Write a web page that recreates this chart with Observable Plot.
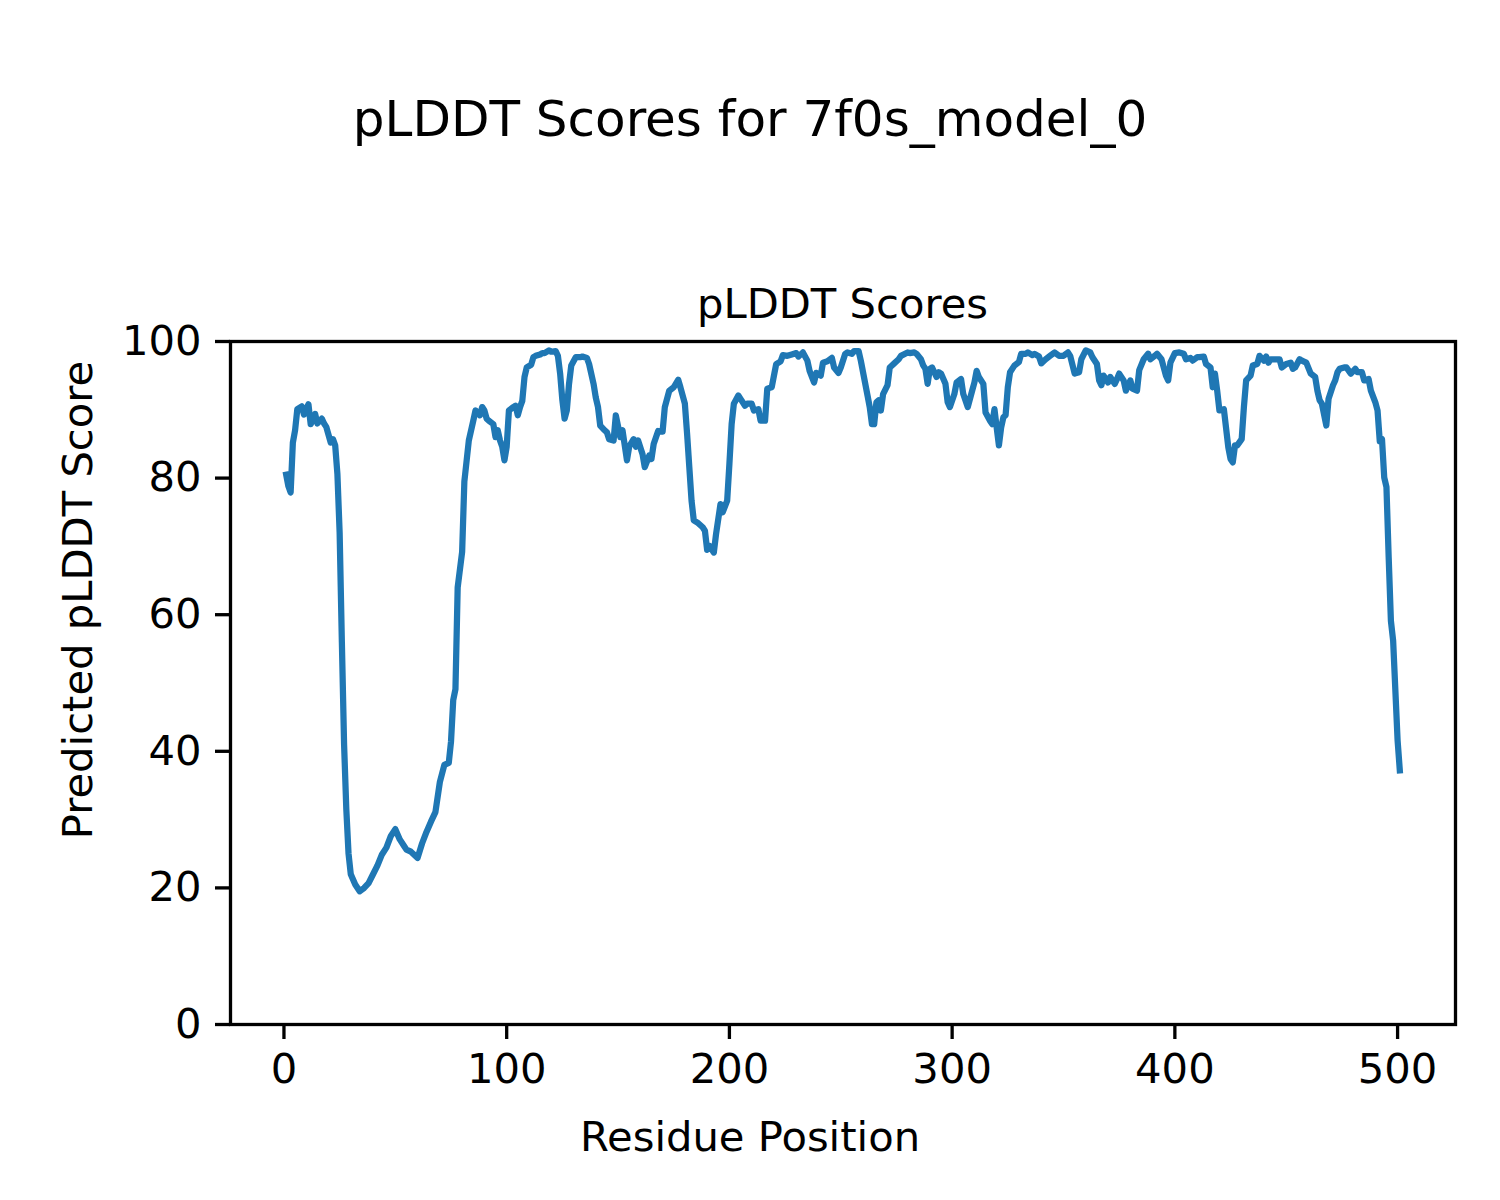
<!DOCTYPE html>
<html>
<head>
<meta charset="utf-8">
<script src="https://cdn.jsdelivr.net/npm/d3@7"></script>
<script src="https://cdn.jsdelivr.net/npm/@observablehq/plot@0.6"></script>
<style>
  html, body { margin: 0; padding: 0; background: #ffffff; }
  #chart { width: 1500px; height: 1200px; }
</style>
</head>
<body>
<div id="chart"></div>
<script>
// ---- Data ----
const residues = [
  1, 2, 3, 4, 5, 6, 8, 9, 11, 12,
  14, 15, 17, 18, 19, 21, 22, 23, 24, 25,
  26, 27, 28, 29, 30, 32, 34, 36, 38, 40,
  42, 44, 46, 48, 50, 52, 54, 55, 57, 60,
  62, 64, 66, 68, 70, 72, 74, 75, 76, 77,
  78, 80, 81, 83, 85, 86, 88, 89, 90, 91,
  92, 94, 95, 96, 97, 98, 99, 100, 101, 103,
  104, 105, 106, 107, 108, 109, 111, 112, 113, 115,
  116, 117, 119, 120, 122, 123, 124, 125, 126, 127,
  128, 129, 131, 133, 134, 136, 137, 139, 140, 141,
  142, 144, 145, 146, 148, 149, 151, 152, 154, 155,
  157, 158, 159, 161, 162, 164, 165, 166, 168, 170,
  171, 173, 175, 177, 178, 180, 181, 182, 183, 184,
  186, 188, 189, 190, 191, 193, 194, 196, 197, 199,
  200, 201, 202, 204, 205, 207, 208, 210, 211, 213,
  214, 216, 217, 219, 220, 221, 223, 224, 226, 228,
  230, 231, 233, 235, 236, 238, 239, 241, 242, 244,
  246, 247, 249, 250, 252, 253, 255, 256, 258, 259,
  261, 262, 263, 264, 265, 266, 267, 268, 269, 271,
  272, 274, 276, 277, 280, 281, 283, 284, 286, 287,
  288, 289, 290, 291, 293, 294, 295, 297, 298, 299,
  301, 302, 304, 305, 307, 309, 310, 311, 312, 314,
  315, 317, 318, 319, 320, 321, 322, 323, 324, 325,
  326, 328, 330, 331, 333, 334, 336, 337, 339, 340,
  342, 344, 346, 348, 350, 352, 353, 355, 357, 358,
  360, 362, 363, 365, 366, 367, 368, 370, 371, 373,
  374, 375, 377, 378, 380, 381, 383, 384, 386, 388,
  389, 391, 392, 394, 396, 397, 398, 400, 402, 404,
  405, 407, 408, 410, 411, 413, 414, 416, 417, 418,
  419, 420, 422, 424, 425, 426, 427, 428, 430, 431,
  432, 434, 435, 437, 438, 440, 441, 442, 443, 445,
  447, 448, 450, 452, 453, 454, 456, 457, 459, 461,
  463, 464, 465, 466, 468, 469, 471, 472, 473, 474,
  476, 477, 479, 481, 482, 484, 485, 487, 488, 490,
  491, 492, 493, 494, 495, 496, 497, 498, 500, 501
];
const plddt = [
  80.5, 78.8, 77.9, 85.2, 87.0, 90.1, 90.5, 89.3, 90.8, 87.9,
  89.4, 88.0, 88.7, 88.0, 87.5, 85.2, 85.7, 84.8, 80.6, 72.0,
  56.0, 41.0, 31.5, 25.0, 22.0, 20.5, 19.5, 20.0, 20.7, 22.0,
  23.3, 24.9, 25.9, 27.6, 28.6, 27.1, 26.1, 25.6, 25.3, 24.4,
  26.5, 28.2, 29.7, 31.1, 35.5, 38.0, 38.3, 41.4, 47.5, 49.1,
  64.0, 69.2, 79.5, 85.5, 88.4, 89.9, 89.2, 90.4, 89.9, 88.7,
  88.4, 87.9, 86.0, 87.0, 85.5, 84.6, 82.6, 84.6, 89.9, 90.4,
  90.6, 89.2, 90.4, 91.3, 94.8, 96.2, 96.6, 97.7, 97.9, 98.1,
  98.3, 98.3, 98.7, 98.5, 98.6, 97.9, 95.3, 91.4, 88.7, 89.9,
  93.8, 96.5, 97.7, 97.7, 97.8, 97.6, 96.7, 93.8, 91.8, 90.4,
  87.7, 87.0, 86.7, 85.7, 85.5, 89.2, 86.0, 87.0, 82.6, 84.6,
  85.7, 84.6, 85.5, 83.5, 81.6, 83.3, 82.8, 85.0, 86.9, 86.8,
  90.4, 92.8, 93.3, 94.4, 93.3, 90.9, 86.5, 81.6, 76.7, 73.8,
  73.4, 72.8, 72.3, 69.5, 70.1, 69.1, 71.8, 76.2, 75.0, 76.7,
  82.1, 87.9, 90.9, 92.1, 91.6, 90.6, 90.9, 90.9, 89.9, 90.1,
  88.4, 88.4, 93.1, 93.3, 95.0, 96.7, 97.1, 98.0, 97.9, 98.1,
  98.3, 97.8, 98.4, 97.2, 95.7, 94.0, 95.4, 95.0, 96.9, 97.1,
  97.6, 96.2, 95.4, 96.2, 98.2, 98.4, 98.2, 98.6, 98.6, 97.2,
  93.8, 92.1, 90.4, 87.9, 87.9, 91.1, 91.4, 89.9, 92.3, 93.6,
  96.2, 96.8, 97.4, 97.9, 98.4, 98.3, 98.4, 98.2, 97.4, 96.5,
  96.0, 93.8, 96.0, 96.2, 94.8, 95.5, 95.3, 93.8, 91.1, 90.4,
  92.3, 94.0, 94.5, 92.3, 90.4, 92.8, 94.0, 95.7, 94.8, 93.8,
  89.6, 88.4, 87.9, 90.1, 87.4, 84.8, 87.4, 88.9, 89.2, 93.3,
  95.5, 96.5, 97.0, 98.2, 98.2, 98.4, 98.0, 98.2, 97.8, 96.8,
  97.4, 97.9, 98.4, 97.9, 97.9, 98.4, 97.9, 95.3, 95.5, 97.4,
  98.7, 98.4, 97.7, 96.7, 94.3, 93.6, 95.0, 94.0, 94.8, 93.8,
  94.5, 95.3, 94.3, 92.8, 94.3, 93.1, 92.8, 95.8, 97.4, 98.2,
  97.4, 97.9, 98.2, 97.4, 95.0, 94.3, 96.9, 98.3, 98.4, 98.2,
  97.4, 97.6, 97.2, 97.7, 97.7, 97.8, 96.7, 96.2, 93.3, 95.3,
  92.8, 89.9, 90.1, 84.5, 82.8, 82.3, 84.8, 84.8, 85.7, 90.4,
  94.3, 95.0, 96.5, 96.7, 97.9, 97.2, 97.8, 96.9, 97.4, 97.4,
  97.4, 96.2, 96.7, 96.9, 96.0, 96.2, 97.4, 97.2, 96.9, 95.3,
  94.8, 92.8, 91.4, 90.9, 87.7, 91.6, 93.6, 94.3, 95.5, 96.0,
  96.2, 96.2, 95.3, 96.0, 95.5, 95.5, 94.3, 94.5, 92.8, 91.1,
  89.9, 85.4, 85.7, 80.1, 78.7, 68.4, 59.1, 56.2, 41.6, 37.2
];
const xTicks = [0, 100, 200, 300, 400, 500];
const yTicks = [0, 20, 40, 60, 80, 100];
const figureTitle = "pLDDT Scores for 7f0s_model_0";
const axesTitle = "pLDDT Scores";
const xLabel = "Residue Position";
const yLabel = "Predicted pLDDT Score";

const data = residues.map((r, i) => ({residue: r, score: plddt[i]}));

const FONT = "DejaVu Sans, Liberation Sans, sans-serif";
const TICK_FS = 41.7;
const LW = 3.3;

const svg = Plot.plot({
  width: 1500,
  height: 1200,
  marginLeft: 230,
  marginRight: 45,
  marginTop: 341,
  marginBottom: 176,
  style: {fontFamily: FONT, fontSize: TICK_FS + "px", background: "#ffffff", color: "#000000"},
  x: {domain: [-24, 526], label: null},
  y: {domain: [0, 100], label: null},
  marks: [
    Plot.line(data, {x: "residue", y: "score", stroke: "#1f77b4", strokeWidth: 6.25, strokeLinejoin: "round", strokeLinecap: "square"}),
    Plot.frame({stroke: "#000000", strokeWidth: LW}),
    Plot.axisX({ticks: xTicks, tickSize: 15, tickPadding: 14, strokeWidth: LW, fontSize: TICK_FS, label: null}),
    Plot.axisY({ticks: yTicks, tickSize: 15, tickPadding: 14, strokeWidth: LW, fontSize: TICK_FS, label: null})
  ]
});

document.getElementById("chart").appendChild(svg);

const s = d3.select(svg);
s.append("text")
  .attr("x", 750).attr("y", 136)
  .attr("text-anchor", "middle")
  .attr("font-family", FONT).attr("font-size", 50)
  .attr("fill", "#000").text(figureTitle);
s.append("text")
  .attr("x", 842.5).attr("y", 318)
  .attr("text-anchor", "middle")
  .attr("font-family", FONT).attr("font-size", 41.7)
  .attr("fill", "#000").text(axesTitle);
s.append("text")
  .attr("x", 750).attr("y", 1151)
  .attr("text-anchor", "middle")
  .attr("font-family", FONT).attr("font-size", 41.7)
  .attr("fill", "#000").text(xLabel);
s.append("text")
  .attr("transform", "translate(92,600) rotate(-90)")
  .attr("text-anchor", "middle")
  .attr("font-family", FONT).attr("font-size", 41.7)
  .attr("fill", "#000").text(yLabel);
</script>
</body>
</html>
